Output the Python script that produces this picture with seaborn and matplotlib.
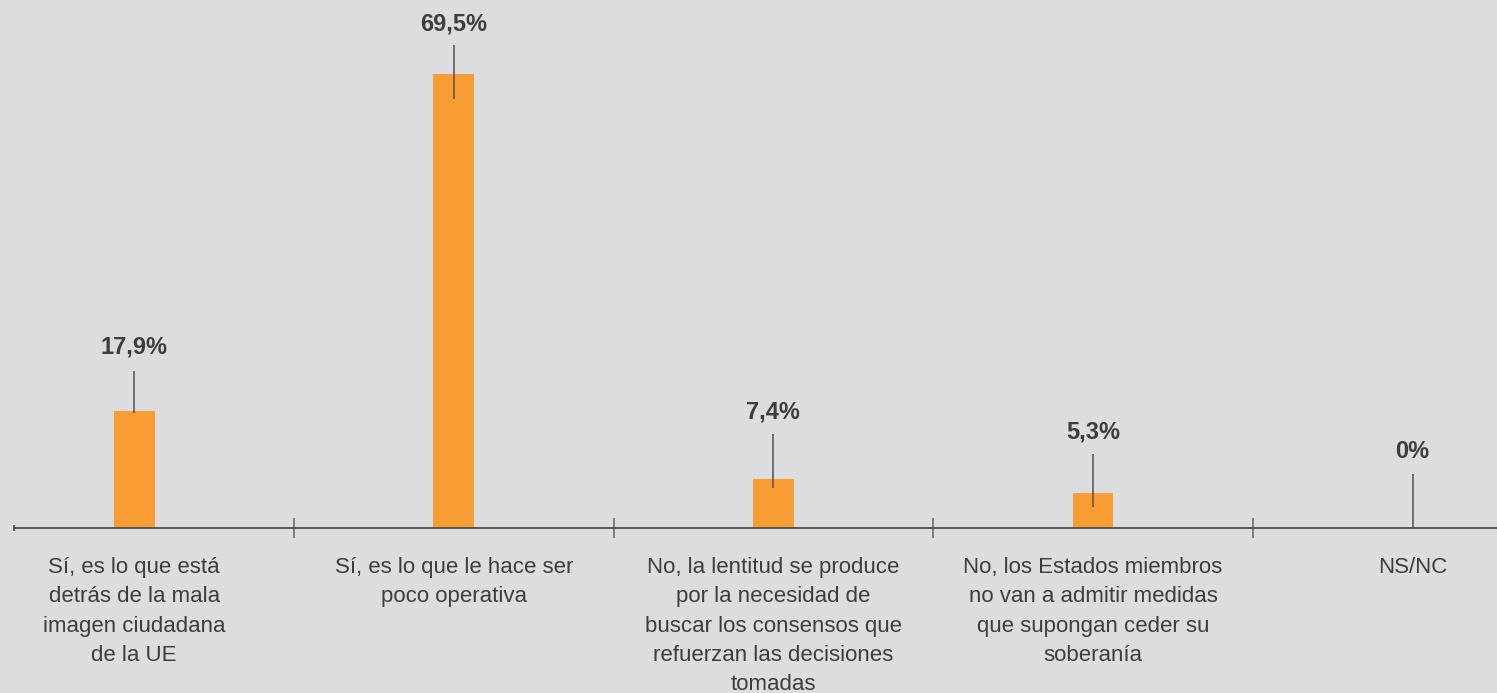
import matplotlib
matplotlib.use("Agg")
import matplotlib.pyplot as plt
import pandas as pd
import seaborn as sns

# Data
categories = [
    "Sí, es lo que está\ndetrás de la mala\nimagen ciudadana\nde la UE",
    "Sí, es lo que le hace ser\npoco operativa",
    "No, la lentitud se produce\npor la necesidad de\nbuscar los consensos que\nrefuerzan las decisiones\ntomadas",
    "No, los Estados miembros\nno van a admitir medidas\nque supongan ceder su\nsoberanía",
    "NS/NC",
]
values = [17.9, 69.5, 7.4, 5.3, 0.0]

# leader lines: how far above / below the bar top they run (data units)
lead_above = [6.1, 4.4, 6.95, 6.0, 8.2]
lead_below = [0.3, 3.8, 1.3, 2.2, 0.0]
label_gap = [3.7, 3.3, 3.3, 3.3, 3.4]

bg = "#dcdddf"
orange = "#f89c34"
dark = "#3d3d3d"
line_col = "#505050"

sns.set_theme(style="white")
plt.rcParams["font.family"] = ["Liberation Sans", "DejaVu Sans"]

df = pd.DataFrame({"categoria": categories, "valor": values})

fig = plt.figure(figsize=(14.97, 6.93), dpi=100, facecolor=bg)
ax = fig.add_axes([14 / 1497, (693 - 527.7) / 693, (1497 - 14) / 1497, 527.7 / 693])
ax.set_facecolor(bg)

sns.barplot(data=df, x="categoria", y="valor", color=orange, width=0.128,
            saturation=1, linewidth=0, ax=ax, zorder=2)

x0, x1 = -0.376, 4.264
ax.set_xlim(x0, x1)
ax.set_ylim(0, 80.8)

for s in ["left", "top", "right"]:
    ax.spines[s].set_visible(False)
ax.spines["bottom"].set_color("#4d4d4d")
ax.spines["bottom"].set_linewidth(1.3)
ax.spines["bottom"].set_zorder(3)

ax.set_xlabel("")
ax.set_ylabel("")
ax.set_yticks([])
ax.tick_params(axis="x", which="major", bottom=True, length=0, pad=21,
               labelsize=16, labelcolor=dark)
ax.set_xticks([i + 0.5 for i in range(len(categories) - 1)], minor=True)
ax.tick_params(axis="x", which="minor", bottom=True, direction="inout",
               length=14.4, width=1.2, color="#6b6b6b")
for lbl in ax.get_xticklabels():
    lbl.set_linespacing(1.52)

# small cap at the left end of the axis
ax.plot([x0], [0], marker="|", ms=5, mew=1.2, color="#4d4d4d", clip_on=False, zorder=4)

# leader lines and value labels
for i, (p, v) in enumerate(zip(ax.patches, values)):
    xc = p.get_x() + p.get_width() / 2
    top = v + lead_above[i]
    ax.vlines(xc, v - lead_below[i], top, color=line_col, lw=1.1, zorder=4)
    txt = f"{v:.1f}".replace(".", ",") + "%" if v % 1 else f"{v:.0f}%"
    ax.text(xc, top + label_gap[i], txt, ha="center", va="center",
            fontsize=17, fontweight="bold", color=dark)

plt.savefig("out.png", dpi=100, facecolor=bg)
